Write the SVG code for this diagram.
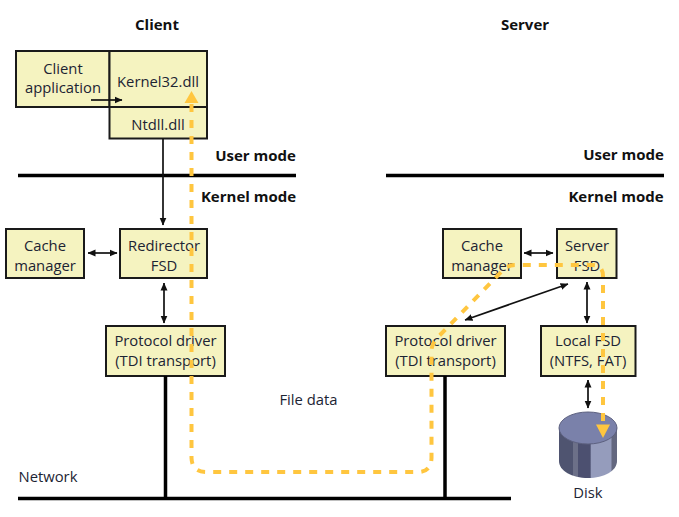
<svg xmlns="http://www.w3.org/2000/svg" width="679" height="517" viewBox="0 0 679 517">
<style>
text{font-family:"Open Sans","Noto Sans","Liberation Sans",sans-serif;font-size:14.800px;fill:#1c2433;text-anchor:middle}
text.b{font-weight:700;font-size:15px;fill:#111}
.box{fill:#f5f3c0;stroke:#1a1a1a;stroke-width:2}
.thin{fill:none;stroke:#111;stroke-width:1.700}
.thick{fill:none;stroke:#000;stroke-width:3.500}
.dash{fill:none;stroke:#ffc63f;stroke-width:4;stroke-dasharray:8 8}
</style>
<defs>
<marker id="a" viewBox="0 0 8 8" refX="7.500" refY="4" markerWidth="8" markerHeight="8" markerUnits="userSpaceOnUse" orient="auto-start-reverse"><path d="M0 0.500L8 4L0 7.500Z" fill="#111"/></marker>
<linearGradient id="cyl" x1="0" x2="1" y1="0" y2="0">
<stop offset="0" stop-color="#4f5470"/><stop offset=".24" stop-color="#4f5470"/><stop offset=".25" stop-color="#6c7088"/><stop offset=".32" stop-color="#6c7088"/><stop offset=".33" stop-color="#4c5070"/><stop offset=".54" stop-color="#4c5070"/><stop offset=".55" stop-color="#959cbc"/><stop offset=".9" stop-color="#959cbc"/><stop offset=".91" stop-color="#63677f"/><stop offset="1" stop-color="#63677f"/>
</linearGradient>
</defs>
<g id="client-title"><text class="b" x="157" y="30">Client</text></g>
<g id="server-title"><text class="b" x="525" y="30">Server</text></g>
<g id="client-app"><rect class="box" x="16" y="51" width="93.500" height="56"/><text x="63" y="74">Client</text><text x="63" y="93">application</text></g>
<g id="kernel32"><rect class="box" x="109.500" y="51" width="97.500" height="56"/><text x="158" y="87">Kernel32.dll</text></g>
<g id="ntdll"><rect class="box" x="109.500" y="107" width="97.500" height="31.500"/><text x="158" y="130">Ntdll.dll</text></g>
<g id="client-cache"><rect class="box" x="6" y="229" width="78" height="49"/><text x="45" y="251">Cache</text><text x="45" y="271">manager</text></g>
<g id="redirector"><rect class="box" x="120" y="229" width="87" height="49"/><text x="164" y="251">Redirector</text><text x="164" y="271">FSD</text></g>
<g id="client-protocol"><rect class="box" x="106" y="326" width="119" height="50"/><text x="165.500" y="346">Protocol driver</text><text x="165.500" y="366">(TDI transport)</text></g>
<g id="server-cache"><rect class="box" x="443" y="229" width="78" height="49"/><text x="482" y="251">Cache</text><text x="482" y="271">manager</text></g>
<g id="server-fsd"><rect class="box" x="557" y="229" width="59.500" height="49"/><text x="587" y="251">Server</text><text x="587" y="271">FSD</text></g>
<g id="server-protocol"><rect class="box" x="386" y="326" width="119" height="50"/><text x="445.500" y="346">Protocol driver</text><text x="445.500" y="366">(TDI transport)</text></g>
<g id="local-fsd"><rect class="box" x="541" y="326" width="94.500" height="50"/><text x="588" y="346">Local FSD</text><text x="588" y="366">(NTFS, FAT)</text></g>
<g id="disk">
<path d="M559 428V461C559 471 572 478 588 478S617 471 617 461V428Z" fill="url(#cyl)"/>
<ellipse cx="588" cy="428" rx="29" ry="16" fill="#7a81aa" stroke="#5d6180" stroke-width="1"/>
<text x="588" y="498">Disk</text>
</g>
<g id="labels">
<text class="b" x="255.500" y="161">User mode</text>
<text class="b" x="248.500" y="202">Kernel mode</text>
<text class="b" x="623.500" y="160">User mode</text>
<text class="b" x="616" y="202">Kernel mode</text>
<text x="308.500" y="405">File data</text>
<text x="48" y="482">Network</text>
</g>
<g id="connectors">
<path class="thick" d="M18 175.500H296M386 175.500H664M18 498.500H511M165.500 376V498M445 376V498"/>
<path class="thin" d="M163 138.500V225" marker-end="url(#a)"/>
<path class="thin" d="M91 100H122" marker-end="url(#a)"/>
<path class="thin" d="M88 253H117" marker-start="url(#a)" marker-end="url(#a)"/>
<path class="thin" d="M164 283V323" marker-start="url(#a)" marker-end="url(#a)"/>
<path class="thin" d="M524 253H553" marker-start="url(#a)" marker-end="url(#a)"/>
<path class="thin" d="M587 282V323" marker-start="url(#a)" marker-end="url(#a)"/>
<path class="thin" d="M568 284L465 320" marker-start="url(#a)" marker-end="url(#a)"/>
<path class="thin" d="M588 380V408" marker-start="url(#a)" marker-end="url(#a)"/>
<path class="dash" d="M191.500 104V458Q192 472 206 472H418Q431 472 431.500 458V350Q432 342 440 335L503 270Q508 265 515 265H592Q603 265 603 276V425"/>
<path d="M191.500 91L198.500 103H184.500Z" fill="#ffc63f"/>
<path d="M603 438L596 424.500H610Z" fill="#ffc63f"/>
</g>
</svg>
